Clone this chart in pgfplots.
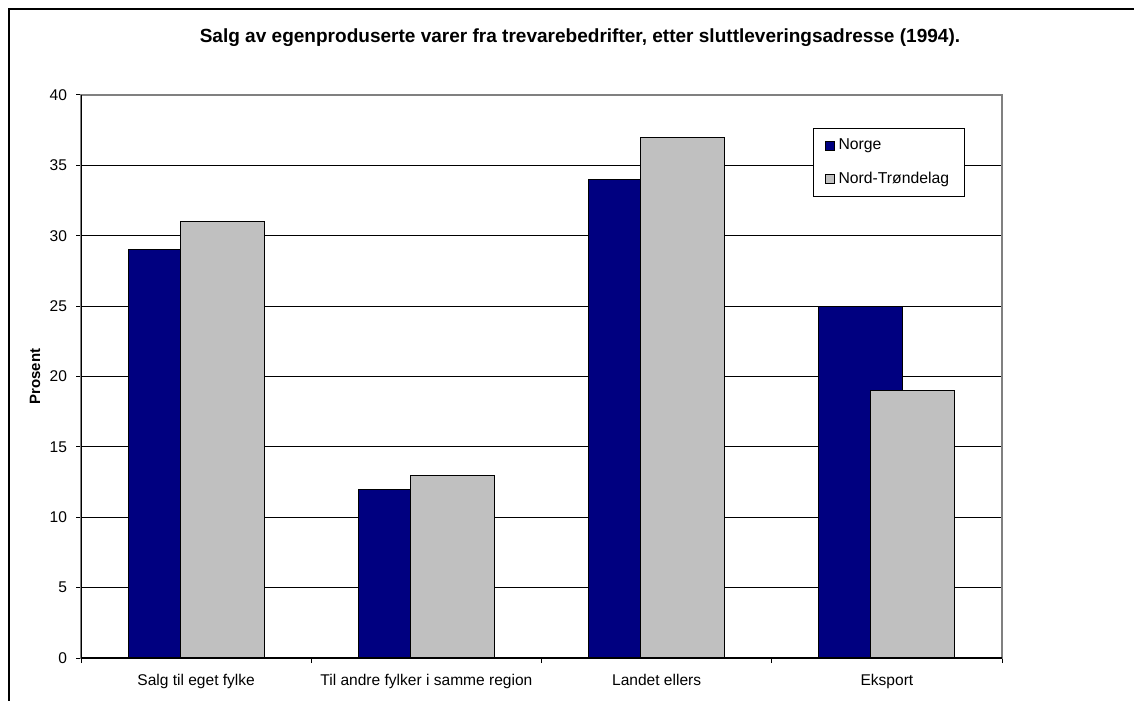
\documentclass[border=0pt]{standalone}
\usepackage{pgfplots}
\pgfplotsset{compat=1.18}
\usepackage{fontspec}
\setmainfont{Liberation Sans}
\definecolor{norge}{HTML}{000080}
\definecolor{nordt}{HTML}{C0C0C0}
\definecolor{plotframe}{HTML}{808080}

\begin{document}
\begin{tikzpicture}[x=0.5bp,y=0.5bp]
\useasboundingbox (0,0) rectangle (1134,700);
% chart frame
\draw[line width=0.7bp] (9,691) rectangle (1150,-10);
% title
\node[font=\bfseries\fontsize{9.55}{11}\selectfont, anchor=base] at (580,657)
  {Salg av egenproduserte varer fra trevarebedrifter, etter sluttleveringsadresse (1994).};
\begin{axis}[
  at={(40.5bp,21bp)}, anchor=south west,
  scale only axis, width=460.5bp, height=281.5bp,
  xmin=-0.5, xmax=3.5, ymin=0, ymax=40,
  ytick={0,5,...,40},
  xtick={0,1,2,3},
  xticklabels={Salg til eget fylke, Til andre fylker i samme region, Landet ellers, Eksport},
  minor xtick={-0.5,0.5,1.5,2.5,3.5},
  major x tick style={draw=none},
  tick align=outside, tick pos=left,
  major tick length=2.5bp, minor tick length=2.5bp,
  tick style={black, line width=0.5bp},
  ymajorgrids, grid style={black, line width=0.45bp},
  axis line style={draw=plotframe, line width=0.6bp},
  /pgf/number format/assume math mode=true,
  ticklabel style={font=\fontsize{7.8}{9}\selectfont},
  yticklabel style={xshift=-1bp},
  xticklabel style={yshift=-2bp},
  ylabel={Prosent},
  every axis y label/.style={at={(rel axis cs:0,0.5)}, xshift=-23bp, rotate=90, anchor=center, font=\bfseries\fontsize{7.5}{9}\selectfont},
  legend style={at={(axis description cs:0.795,0.941)}, anchor=north west,
    draw=black, line width=0.5bp, font=\fontsize{7.9}{9}\selectfont,
    inner xsep=5.5bp, inner ysep=3.2bp, row sep=5.5bp},
  legend cell align=left,
  legend image code/.code={\draw[#1, line width=0.4bp] (0bp,-2.25bp) rectangle (4.5bp,2.25bp);},
]
\addplot[ybar, bar width=42bp, bar shift=-13bp, fill=norge, draw=black, line width=0.5bp]
  coordinates {(0,29) (1,12) (2,34) (3,25)};
\addplot[ybar, bar width=42bp, bar shift=13bp, fill=nordt, draw=black, line width=0.5bp]
  coordinates {(0,31) (1,13) (2,37) (3,19)};
\legend{Norge, Nord-Trøndelag}
\draw[black, line width=0.7bp] (rel axis cs:0,1) -- (rel axis cs:0,0) -- (rel axis cs:1,0);
\end{axis}
\end{tikzpicture}
\end{document}
